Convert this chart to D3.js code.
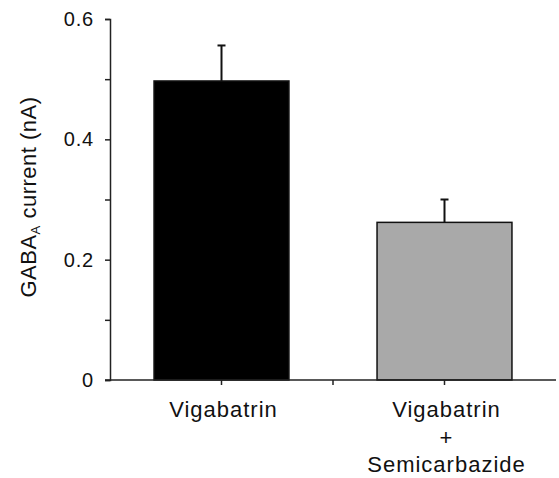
<!DOCTYPE html>
<html>
<head>
<meta charset="utf-8">
<script src="https://cdn.jsdelivr.net/npm/d3@7"></script>
<style>
  body { margin: 0; background: #fff; }
  text { font-family: "Liberation Sans", Arial, sans-serif; fill: #111; }
</style>
</head>
<body>
<script>
var config = {
    width: 559,
    height: 478,
    left: 110,
    right: 556,
    top: 19,
    bottom: 380
}

// data
var categories = ["Vigabatrin", "Vigabatrin + Semicarbazide"];
var labelLines = [["Vigabatrin"], ["Vigabatrin", "+", "Semicarbazide"]];
var means = [0.497, 0.262];
var errors = [0.059, 0.038];
var fills = ["#000000", "#a9a9a9"];
var yTicks = [0, 0.1, 0.2, 0.3, 0.4, 0.5, 0.6];
var yTickLabels = ["0", "", "0.2", "", "0.4", "", "0.6"];

var bars = categories.map(function(c, i) {
    return {cat: c, value: means[i], err: errors[i], fill: fills[i], lines: labelLines[i]};
});

var svg = d3.select("body").append("svg")
    .attr("width", config.width)
    .attr("height", config.height)

var x = d3.scaleBand()
    .domain(categories)
    .range([config.left, config.right])
    .paddingInner(0.395)
    .paddingOuter(0.1975);

var y = d3.scaleLinear()
    .domain([0, 0.6])
    .range([config.bottom, config.top]);

// bars
svg.append('g')
    .selectAll('rect')
    .data(bars)
    .enter()
        .append('rect')
        .attr('x', function(d) { return x(d.cat); })
        .attr('y', function(d) { return y(d.value); })
        .attr('width', x.bandwidth())
        .attr('height', function(d) { return y(0) - y(d.value); })
        .attr('fill', function(d) { return d.fill; })
        .attr('stroke', '#111')
        .attr('stroke-width', 1.5);

// error bars (upper only)
var eb = svg.append('g').attr('stroke', '#111').attr('stroke-width', 2);
bars.forEach(function(d) {
    var cx = x(d.cat) + x.bandwidth() / 2;
    eb.append('line')
        .attr('x1', cx).attr('x2', cx)
        .attr('y1', y(d.value)).attr('y2', y(d.value + d.err));
    eb.append('line')
        .attr('x1', cx - 4).attr('x2', cx + 4)
        .attr('y1', y(d.value + d.err)).attr('y2', y(d.value + d.err));
});

// y axis
var yAxis = d3.axisLeft(y)
    .tickValues(yTicks)
    .tickSize(5)
    .tickPadding(11)
    .tickFormat(function(d, i) { return yTickLabels[i]; });

var gy = svg.append('g')
    .attr('transform', 'translate(' + config.left + ',0)')
    .call(yAxis);
gy.select('.domain').attr('stroke', '#222').attr('stroke-width', 1.5);
gy.selectAll('.tick line').attr('stroke', '#222').attr('stroke-width', 1.5);
gy.selectAll('.tick text')
    .attr('font-size', 20)
    .attr('letter-spacing', 0.8)
    .attr('fill', '#111');

// x axis
var xAxis = d3.axisBottom(x)
    .tickSize(5)
    .tickSizeOuter(0)
    .tickFormat('');

var gx = svg.append('g')
    .attr('transform', 'translate(0,' + config.bottom + ')')
    .call(xAxis);
gx.select('.domain').attr('stroke', '#222').attr('stroke-width', 1.5)
    .attr('d', 'M' + (config.left - 5) + ',0H' + config.right);
gx.selectAll('.tick line').attr('stroke', '#222').attr('stroke-width', 1.5);

// tick between the two groups
var mid = (x(categories[0]) + x.bandwidth() + x(categories[1])) / 2;
gx.append('line')
    .attr('x1', mid).attr('x2', mid)
    .attr('y1', 0).attr('y2', 5)
    .attr('stroke', '#222').attr('stroke-width', 1.5);

// category labels
bars.forEach(function(d) {
    var cx = x(d.cat) + x.bandwidth() / 2 + 2;
    var t = svg.append('text')
        .attr('text-anchor', 'middle')
        .attr('font-size', 22)
        .attr('letter-spacing', 1);
    d.lines.forEach(function(line, j) {
        t.append('tspan')
            .attr('x', cx)
            .attr('y', 417 + j * 27.5)
            .text(line);
    });
});

// y label
var yl = svg.append('text')
    .attr('transform', 'translate(36,197) rotate(-90)')
    .attr('text-anchor', 'middle')
    .attr('font-size', 22)
    .attr('letter-spacing', 0.5);
yl.append('tspan').text('GABA');
yl.append('tspan').attr('font-size', 13).attr('dy', 4).text('A');
yl.append('tspan').attr('dy', -4).text(' current (nA)');
</script>
</body>
</html>
